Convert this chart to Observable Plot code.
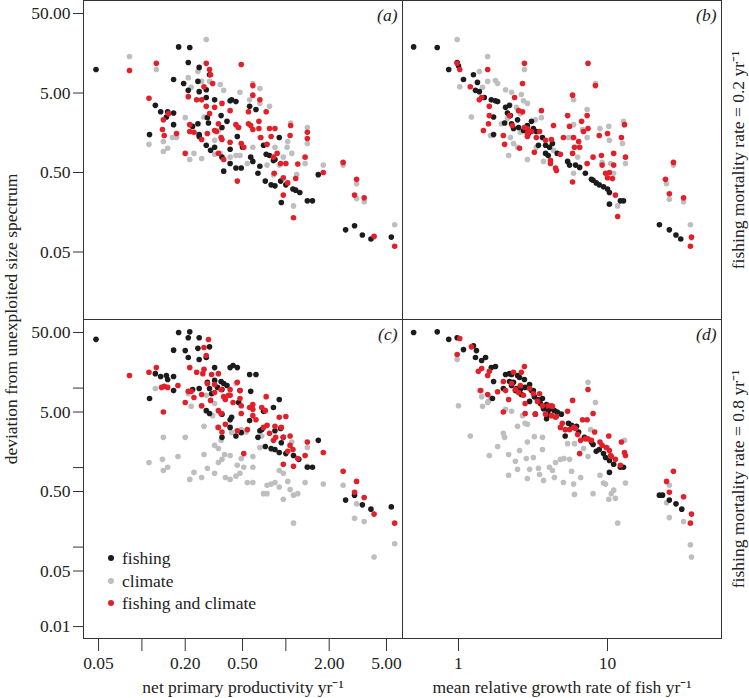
<!DOCTYPE html>
<html>
<head>
<meta charset="utf-8">
<script src="https://cdn.jsdelivr.net/npm/d3@7"></script>
<script src="https://cdn.jsdelivr.net/npm/@observablehq/plot@0.6"></script>
<style>
  html, body { margin: 0; padding: 0; background: white; }
  #chart { position: relative; width: 749px; height: 698px; background: white; font-family: "Liberation Serif", "Times New Roman", serif; color: #222; }
  .legend { position: absolute; left: 106px; top: 547px; font-size: 17.5px; line-height: 22.5px; }
  .legend .row { display: flex; align-items: center; white-space: nowrap; }
  .legend .sw { width: 6px; height: 6px; border-radius: 50%; margin-right: 8px; margin-left: 2px; }
</style>
</head>
<body>
<div id="chart"></div>
<script>
// ---------------- data ----------------
// series labels and colours
const seriesNames = ["fishing", "climate", "fishing and climate"];
const seriesColors = ["#1c1c1c", "#bebebe", "#e3202a"];

// tick values
const yTicksTop = [50, 5, 0.5, 0.05];
const yTicksBottom = [50, 10, 5, 1, 0.5, 0.1, 0.05, 0.01];
const yLabelledTop = [50, 5, 0.5, 0.05];
const yLabelledBottom = [50, 5, 0.5, 0.05, 0.01];
const nppTicks = [0.05, 0.1, 0.2, 0.5, 1, 2, 5];
const nppLabelled = [0.05, 0.2, 0.5, 2, 5];
const growthTicks = [1, 10];
const growthLabelled = [1, 10];

// panel (a): x = net primary productivity, F = 0.2
const aFishing = [[0.048,9.9],[0.18,19],[0.215,18.7],[0.21,12.1],[0.25,10.5],[0.166,7.4],[0.195,6.6],[0.21,5.4],[0.245,7.0],[0.295,8.5],[0.25,5.2],[0.28,5.5],[0.28,4.4],[0.32,4.1],[0.124,3.5],[0.135,2.9],[0.166,2.8],[0.148,2.5],[0.151,2.9],[0.166,2.0],[0.113,1.5],[0.225,1.9],[0.245,2.05],[0.285,2.45],[0.29,2.1],[0.25,1.5],[0.25,1.42],[0.28,1.1],[0.32,1.04],[0.30,0.95],[0.355,2.6],[0.36,1.84],[0.39,2.2],[0.41,4.0],[0.42,4.1],[0.45,3.9],[0.56,3.4],[0.62,3.1],[0.41,0.98],[0.36,0.78],[0.41,0.65],[0.45,0.57],[0.49,0.57],[0.37,0.52],[0.46,1.42],[0.50,1.04],[0.57,0.78],[0.59,0.69],[0.64,0.49],[0.66,0.6],[0.70,1.1],[0.73,0.85],[0.77,0.82],[0.82,0.71],[0.84,0.73],[0.90,1.38],[0.72,0.39],[0.79,0.35],[0.84,0.34],[0.92,0.39],[1.0,0.35],[1.12,0.31],[1.17,0.30],[1.25,0.28],[0.93,0.21],[1.41,0.22],[1.53,0.22],[1.68,0.47],[2.6,0.095],[3.0,0.107],[3.4,0.082],[3.9,0.073],[5.4,0.077]];
const aClimate = [[0.082,14.4],[0.126,9.9],[0.28,23.6],[0.21,7.8],[0.22,5.9],[0.245,9.3],[0.26,7.0],[0.295,7.0],[0.35,6.4],[0.37,5.4],[0.48,5.1],[0.56,4.1],[0.59,6.6],[0.66,5.7],[0.66,3.7],[0.77,3.4],[0.20,2.45],[0.27,2.5],[0.163,1.38],[0.112,1.13],[0.141,0.92],[0.151,1.01],[0.141,1.23],[0.215,0.73],[0.23,0.87],[0.26,0.75],[0.32,0.85],[0.35,0.87],[0.41,0.78],[0.45,0.82],[0.48,0.82],[0.54,0.65],[0.59,1.04],[0.66,1.38],[0.74,0.62],[0.82,0.47],[0.90,0.62],[1.02,1.04],[1.03,1.23],[1.08,2.1],[1.10,0.87],[1.13,0.19],[1.19,0.47],[1.36,0.65],[1.41,1.84],[1.41,1.16],[1.82,0.62],[2.5,0.62],[3.1,0.36],[3.1,0.235],[3.5,0.215],[4.1,0.077],[5.7,0.11],[0.84,1.04],[0.34,1.69],[0.32,1.27],[0.46,1.84],[0.96,0.78],[0.174,1.38]];
const aBoth = [[0.082,9.6],[0.126,11.8],[0.28,11.8],[0.49,11.4],[0.112,4.3],[0.295,9.9],[0.30,8.5],[0.21,4.5],[0.24,4.1],[0.26,4.1],[0.27,6.0],[0.28,3.4],[0.31,6.6],[0.295,2.75],[0.32,3.3],[0.36,3.7],[0.41,3.0],[0.141,2.3],[0.153,2.75],[0.139,1.74],[0.143,1.46],[0.174,1.55],[0.215,2.0],[0.215,1.64],[0.23,1.6],[0.26,1.3],[0.285,1.55],[0.32,1.69],[0.33,1.64],[0.34,2.05],[0.355,1.38],[0.36,1.3],[0.41,1.2],[0.45,2.0],[0.47,1.84],[0.49,1.16],[0.51,1.04],[0.55,2.05],[0.57,1.95],[0.59,1.74],[0.55,2.9],[0.59,4.7],[0.59,6.2],[0.66,4.1],[0.65,2.2],[0.65,1.79],[0.67,1.38],[0.73,2.9],[0.74,1.13],[0.77,1.79],[0.84,1.79],[0.79,1.42],[0.82,0.78],[0.87,0.87],[0.83,0.49],[0.92,0.65],[0.96,0.43],[0.96,0.26],[1.0,0.65],[1.03,0.37],[1.07,1.46],[1.08,1.95],[1.17,0.42],[1.21,0.64],[1.13,0.135],[0.46,0.39],[0.20,0.87],[0.37,0.73],[0.34,0.87],[1.36,0.78],[1.41,1.6],[1.41,1.34],[1.82,0.50],[2.5,0.67],[3.1,0.41],[3.0,0.26],[3.5,0.24],[4.1,0.079],[5.7,0.059]];

// panel (b): x = mean relative growth rate of fish, F = 0.2
const bFishing = [[0.50,19],[0.72,18.7],[0.86,9.9],[0.98,12.1],[1.0,11],[1.08,7.4],[1.26,8.5],[1.34,6.8],[1.30,5.4],[1.38,5.2],[1.49,4.4],[1.66,4.1],[1.77,4.0],[1.83,3.9],[1.72,2.5],[2.07,3.3],[2.13,2.8],[2.04,2.1],[2.23,2.6],[2.27,2.05],[2.34,1.79],[2.49,2.3],[2.53,1.84],[2.73,1.69],[2.9,1.95],[2.95,1.55],[3.18,1.79],[3.66,1.38],[3.84,1.1],[4.08,1.04],[4.27,1.16],[4.6,0.87],[3.84,0.87],[5.4,0.69],[5.56,0.62],[6.1,0.62],[6.5,0.58],[7.1,0.49],[7.8,0.41],[8.0,0.40],[8.4,0.37],[8.8,0.35],[9.4,0.33],[10.0,0.31],[10.3,0.28],[10.3,0.20],[12.2,0.22],[12.8,0.22],[22.3,0.11],[26,0.095],[28.8,0.082],[31,0.073],[2.2,3.5],[3.33,1.64],[3.44,1.1],[1.72,1.5],[3.09,2.2],[4.0,0.82]];
const bClimate = [[0.98,23.6],[1.57,14.4],[1.38,9.3],[1.02,6.0],[1.57,7.0],[1.77,7.2],[1.83,6.6],[1.45,5.9],[1.22,2.5],[1.64,1.46],[2.07,5.5],[2.27,5.1],[2.64,4.8],[2.73,4.0],[2.9,3.7],[2.45,3.3],[2.6,2.75],[2.13,2.4],[1.94,2.05],[3.6,2.45],[3.28,2.3],[2.6,1.6],[2.23,1.38],[2.49,1.04],[2.17,0.82],[2.9,0.73],[3.33,1.04],[3.72,0.69],[4.34,0.95],[5.92,4.1],[5.92,2.0],[6.5,1.04],[5.74,1.38],[6.8,1.74],[7.3,1.38],[7.3,3.1],[6.3,0.78],[5.92,0.49],[5.47,1.38],[8.9,1.79],[10.3,1.27],[10.2,1.9],[12.6,1.16],[12.8,2.2],[10.5,0.65],[11.0,0.49],[13.2,0.65],[8.3,6.6],[9.2,0.67],[11.7,0.19],[24.9,0.36],[26,0.23],[27.7,0.62],[32.4,0.215],[36,0.11],[36.6,0.075],[2.34,1.16],[2.77,9.9]];
const bBoth = [[0.98,11.8],[1.02,9.9],[1.57,9.9],[1.20,6.0],[1.38,4.1],[1.43,4.4],[1.47,1.69],[1.61,2.6],[1.61,3.4],[2.0,1.46],[2.04,1.13],[2.2,2.6],[2.3,1.95],[2.38,4.4],[2.69,6.6],[2.69,2.9],[2.77,11.8],[2.53,3.0],[2.77,1.84],[2.9,1.79],[2.9,1.55],[2.9,1.42],[3.09,1.64],[3.23,0.9],[3.33,1.38],[3.5,1.64],[3.6,3.0],[3.84,1.27],[4.14,0.71],[4.34,1.95],[4.2,1.3],[4.14,0.65],[4.48,0.57],[4.83,0.85],[5.06,1.38],[5.4,2.6],[5.56,1.9],[5.83,4.7],[5.83,0.87],[5.83,0.38],[5.92,1.38],[6.0,1.04],[6.4,1.23],[6.5,1.04],[6.9,1.64],[6.7,2.2],[7.3,2.6],[7.4,1.79],[7.4,11.8],[8.3,6.2],[8.0,0.78],[8.8,1.46],[9.1,0.82],[9.2,0.62],[9.7,0.49],[10.0,0.43],[10.3,0.50],[10.8,0.42],[11.0,0.87],[11.0,0.62],[11.3,0.26],[11.7,0.14],[12.4,1.38],[13.0,2.0],[13.2,0.78],[10.0,1.55],[7.3,0.65],[24.5,0.41],[26,0.27],[27.7,0.67],[32.4,0.24],[36.6,0.077],[36,0.059],[1.59,2.05],[2.57,1.01],[4.54,0.53]];

// panel (c): x = net primary productivity, F = 0.8
const cFishing = [[0.048,41],[0.18,50],[0.215,51],[0.21,43],[0.25,43],[0.295,33],[0.166,30],[0.20,29.6],[0.21,24.3],[0.245,31.6],[0.25,22.9],[0.28,24.3],[0.32,18.1],[0.41,18.1],[0.43,19.2],[0.46,18.1],[0.56,14.8],[0.62,14.8],[0.124,15.2],[0.135,14.0],[0.148,14.4],[0.151,12.8],[0.166,14.0],[0.166,9.3],[0.113,7.4],[0.225,9.6],[0.25,9.9],[0.285,11.8],[0.295,9.9],[0.32,12.5],[0.355,12.1],[0.37,11.4],[0.39,10.8],[0.305,8.5],[0.335,10.2],[0.28,5.2],[0.295,4.8],[0.36,4.7],[0.36,9.6],[0.41,4.0],[0.42,4.3],[0.36,2.4],[0.45,2.5],[0.49,2.75],[0.48,9.3],[0.47,6.6],[0.57,9.1],[0.56,3.9],[0.64,2.4],[0.66,2.9],[0.71,5.2],[0.72,1.84],[0.79,1.74],[0.82,5.7],[0.90,7.2],[0.84,2.9],[0.92,3.1],[0.93,2.05],[0.84,1.69],[0.90,1.55],[1.0,1.5],[1.13,1.42],[1.23,1.27],[1.41,1.01],[1.53,1.01],[1.68,2.2],[2.6,0.39],[3.0,0.45],[3.4,0.34],[3.9,0.30],[5.4,0.32],[0.96,2.4],[0.41,3.2],[0.70,5.1],[0.68,3.0]];
const cClimate = [[0.124,9.9],[0.141,2.4],[0.20,2.4],[0.22,5.9],[0.28,8.1],[0.31,4.5],[0.27,3.3],[0.112,1.16],[0.139,1.27],[0.141,0.92],[0.151,1.01],[0.178,1.38],[0.215,0.71],[0.23,0.87],[0.26,0.75],[0.285,0.98],[0.32,0.85],[0.34,1.16],[0.36,1.27],[0.375,1.46],[0.41,1.42],[0.355,2.2],[0.34,1.74],[0.38,0.75],[0.41,0.71],[0.45,0.78],[0.48,0.85],[0.46,1.07],[0.49,1.3],[0.51,1.01],[0.53,2.8],[0.54,0.65],[0.59,0.65],[0.59,1.01],[0.59,1.38],[0.66,1.79],[0.68,2.5],[0.70,0.47],[0.74,0.47],[0.74,0.6],[0.79,0.62],[0.84,0.65],[0.90,0.57],[0.90,0.92],[0.96,0.40],[0.96,0.85],[1.03,0.67],[1.07,0.53],[1.13,0.45],[1.13,0.20],[1.21,0.47],[1.10,2.1],[1.36,0.65],[1.41,1.79],[1.41,1.04],[1.82,0.62],[2.5,0.6],[3.0,0.23],[3.1,0.35],[3.5,0.21],[4.1,0.075],[5.7,0.11],[0.45,11.4],[0.49,3.0],[0.80,1.69],[0.26,6.0],[0.32,6.4],[0.42,2.75],[0.335,3.2],[0.21,8.5],[0.27,1.46],[0.32,1.9]];
const cBoth = [[0.082,14.4],[0.112,15.8],[0.126,18.1],[0.137,10.2],[0.143,10.5],[0.151,10.2],[0.178,10.8],[0.141,5.0],[0.20,6.6],[0.21,9.1],[0.22,9.1],[0.215,18.1],[0.23,7.6],[0.26,8.3],[0.265,15.2],[0.28,25.7],[0.27,32.4],[0.29,40.8],[0.285,11.4],[0.305,14.8],[0.32,11.1],[0.32,8.8],[0.34,15.2],[0.34,5.2],[0.355,9.6],[0.37,7.8],[0.355,4.8],[0.38,7.2],[0.40,8.1],[0.41,9.6],[0.41,8.1],[0.43,6.6],[0.46,11.8],[0.48,9.3],[0.48,7.4],[0.49,6.0],[0.51,1.5],[0.46,2.9],[0.49,4.8],[0.54,3.0],[0.56,5.7],[0.59,5.4],[0.59,4.5],[0.62,4.0],[0.59,6.2],[0.68,5.7],[0.72,5.2],[0.73,7.8],[0.74,3.4],[0.70,3.2],[0.77,2.7],[0.82,2.2],[0.84,3.3],[0.85,2.4],[0.90,4.3],[0.93,3.2],[0.96,2.4],[0.96,1.1],[1.0,4.4],[1.03,1.6],[1.07,1.9],[1.07,2.5],[1.12,1.69],[1.13,1.04],[1.21,1.3],[1.36,1.42],[1.41,2.1],[1.82,1.55],[2.5,0.9],[3.1,0.67],[3.0,0.49],[3.5,0.42],[4.1,0.26],[5.7,0.2],[0.24,15.8],[0.27,17.2],[0.26,6.0],[0.30,7.0],[0.34,3.2],[0.36,2.8],[0.38,3.5]];

// panel (d): x = mean relative growth rate of fish, F = 0.8
const dFishing = [[0.50,50],[0.72,51],[0.86,41],[0.98,43],[1.08,30.5],[1.26,34],[1.32,29.6],[1.30,24.3],[1.43,22.2],[1.52,24.3],[1.66,18.1],[1.77,18.7],[1.72,12.1],[2.07,14.8],[2.2,15.2],[2.27,14.8],[2.2,12.1],[2.34,11.8],[2.49,14.4],[2.57,13.6],[2.77,12.8],[2.0,9.9],[2.27,10.8],[2.45,9.9],[2.6,9.6],[2.8,10.2],[2.41,9.3],[2.64,8.3],[3.0,11.1],[3.09,9.3],[3.18,9.3],[3.23,7.8],[3.0,6.8],[3.39,7.2],[3.5,7.0],[3.66,7.4],[3.55,6.4],[3.72,5.5],[3.9,6.2],[4.0,5.2],[4.2,5.5],[4.4,5.2],[4.6,5.0],[3.97,4.7],[4.9,4.7],[3.9,4.1],[3.28,4.7],[1.69,7.4],[5.2,2.5],[5.47,3.6],[5.74,3.4],[6.2,3.3],[6.4,2.8],[7.0,2.4],[7.8,2.1],[8.0,1.95],[8.4,1.6],[8.8,1.69],[9.4,1.5],[9.7,1.34],[10.3,1.23],[11.0,1.1],[12.2,1.01],[12.8,1.01],[10.3,0.87],[22.3,0.45],[23.4,0.45],[26,0.39],[28.8,0.35],[31.5,0.30]];
const dClimate = [[0.98,22.9],[1.0,6.0],[1.20,2.5],[1.38,9.3],[1.45,5.9],[1.57,6.6],[1.64,7.6],[1.61,1.42],[1.83,1.84],[2.07,5.4],[2.17,1.46],[2.27,5.1],[2.17,0.8],[2.41,1.2],[2.57,1.64],[2.49,0.95],[2.49,3.3],[2.8,3.6],[2.9,2.1],[2.85,1.3],[3.0,0.95],[2.9,0.73],[3.18,1.34],[3.23,2.45],[3.44,0.98],[3.66,2.4],[3.66,1.69],[3.72,0.69],[4.08,1.01],[4.27,0.92],[4.4,0.75],[4.48,1.16],[4.83,1.27],[5.06,0.65],[5.1,1.3],[5.56,1.27],[5.74,0.9],[5.92,0.62],[6.0,0.46],[6.6,0.75],[6.9,1.74],[7.4,1.38],[8.0,0.47],[8.9,0.8],[9.4,0.64],[9.7,0.62],[10.2,0.40],[10.6,0.47],[11.0,0.52],[11.3,0.41],[11.7,0.2],[13.2,0.64],[13.0,2.2],[8.3,6.6],[7.4,11.8],[2.0,2.7],[2.04,2.4],[2.69,4.5],[2.9,3.5],[3.5,0.82],[5.4,2.0],[6.0,2.0],[7.7,3.0],[10.0,1.79],[24.9,0.36],[26,0.6],[26,0.235],[32.4,0.21],[36,0.107],[36.6,0.075],[1.43,7.8],[1.59,6.8]];
const dBoth = [[1.02,42],[0.98,26.5],[1.22,33],[1.36,16.3],[1.43,17.6],[1.57,14.4],[1.61,16.3],[1.41,9.3],[1.57,8.3],[1.83,9.0],[2.0,12.1],[2.0,5.0],[2.07,9.3],[2.17,7.2],[2.27,11.4],[2.34,15.8],[2.41,9.6],[2.53,8.8],[2.64,15.8],[2.77,18.7],[2.6,10.8],[2.73,8.1],[2.8,6.4],[2.8,4.8],[3.0,9.9],[3.18,8.5],[3.28,4.7],[3.39,6.8],[3.5,8.5],[3.66,6.0],[3.84,4.7],[4.2,6.0],[4.2,4.5],[4.48,4.3],[4.83,3.2],[4.97,3.6],[5.4,5.1],[5.2,3.0],[5.56,3.0],[5.83,7.0],[5.92,3.2],[6.1,3.1],[6.3,2.6],[6.6,2.2],[6.5,1.5],[6.8,4.0],[7.1,2.3],[7.3,4.0],[7.4,9.6],[7.4,2.3],[7.8,2.2],[8.0,4.8],[8.2,2.8],[8.9,2.1],[9.2,1.9],[9.8,1.79],[10.2,2.5],[10.3,1.64],[10.5,1.42],[11.3,1.27],[12.2,1.07],[12.4,2.1],[13.0,1.55],[13.2,1.42],[24.9,0.67],[26,0.49],[27.7,0.9],[32.4,0.43],[36.6,0.26],[36,0.2],[4.0,6.0],[4.27,5.9],[4.54,4.4],[10.6,1.38]];

// text
const panelTags = ["(a)", "(b)", "(c)", "(d)"];
const xTitles = ["net primary productivity yr\u207B\u00B9", "mean relative growth rate of fish yr\u207B\u00B9"];
const yTitle = "deviation from unexploited size spectrum";
const rowTitles = ["fishing mortality rate = 0.2 yr\u207B\u00B9", "fishing mortality rate = 0.8 yr\u207B\u00B9"];

// ---------------- drawing ----------------
const FONT = "'Liberation Serif', 'Times New Roman', serif";
const FS = 17.5;
const INK = "#222";
const LINE = "#333";
const nppDomain = [0.0393, 6.46];
const growthDomain = [0.421, 58.2];
const yDomain = [0.00708, 72.9];
const fmt2 = d3.format(".2f");
const toRows = pairs => pairs.map(([x, y]) => ({x, y}));

function panel({fishing, climate, both, xDomain, left, top, width, height, marginLeft, marginRight, marginBottom,
                yTicks, yLabels, xTicks, xLabels, xFormat, tag, xTitle, rowTitle}) {
  const marks = [];
  // drawing order: climate (grey), fishing (black), fishing and climate (red)
  marks.push(Plot.dot(toRows(climate), {x: "x", y: "y", r: 2.8, fill: seriesColors[1]}));
  marks.push(Plot.dot(toRows(fishing), {x: "x", y: "y", r: 2.8, fill: seriesColors[0]}));
  marks.push(Plot.dot(toRows(both), {x: "x", y: "y", r: 2.8, fill: seriesColors[2]}));
  marks.push(Plot.frame({stroke: LINE, strokeWidth: 1}));
  if (yTicks) {
    marks.push(Plot.axisY({ticks: yTicks, tickFormat: () => "", tickSize: 10, label: null, stroke: LINE}));
    marks.push(Plot.text(yLabels, {y: d => d, text: d => fmt2(d), frameAnchor: "left", dx: -13,
      textAnchor: "end", lineAnchor: "middle", fontSize: FS, fill: INK}));
  }
  if (xTicks) {
    marks.push(Plot.axisX({ticks: xTicks, tickFormat: () => "", tickSize: 13, label: null, stroke: LINE}));
    marks.push(Plot.text(xLabels, {x: d => d, text: xFormat, frameAnchor: "bottom", dy: 25,
      textAnchor: "middle", lineAnchor: "middle", fontSize: FS, fill: INK}));
  }
  marks.push(Plot.text([tag], {text: d => d, frameAnchor: "top-right", dx: -5, dy: 15, textAnchor: "end",
    lineAnchor: "middle", fontStyle: "italic", fontSize: FS, fill: INK}));
  if (xTitle) marks.push(Plot.text([xTitle], {text: d => d, frameAnchor: "bottom", dy: 49, textAnchor: "middle",
    lineAnchor: "middle", fontSize: FS, fill: INK}));
  if (rowTitle) marks.push(Plot.text([rowTitle], {text: d => d, frameAnchor: "right", dx: 17, rotate: -90,
    textAnchor: "middle", lineAnchor: "middle", fontSize: FS, fill: INK}));
  const svg = Plot.plot({
    width, height, marginLeft, marginRight, marginTop: 0, marginBottom,
    x: {type: "log", domain: xDomain, axis: xTicks ? undefined : null},
    y: {type: "log", domain: yDomain, axis: yTicks ? undefined : null},
    style: {fontFamily: FONT, fontSize: FS + "px", color: INK, background: "transparent", overflow: "visible"},
    marks
  });
  svg.style.position = "absolute";
  svg.style.left = left + "px";
  svg.style.top = top + "px";
  return svg;
}

const chart = document.getElementById("chart");
chart.append(panel({fishing: aFishing, climate: aClimate, both: aBoth, xDomain: nppDomain,
  left: 0, top: 0, width: 402, height: 319, marginLeft: 83, marginRight: 0, marginBottom: 0,
  yTicks: yTicksTop, yLabels: yLabelledTop, tag: panelTags[0]}));
chart.append(panel({fishing: bFishing, climate: bClimate, both: bBoth, xDomain: growthDomain,
  left: 402, top: 0, width: 347, height: 319, marginLeft: 0, marginRight: 28, marginBottom: 0,
  tag: panelTags[1], rowTitle: rowTitles[0]}));
chart.append(panel({fishing: cFishing, climate: cClimate, both: cBoth, xDomain: nppDomain,
  left: 0, top: 319, width: 402, height: 379, marginLeft: 83, marginRight: 0, marginBottom: 60,
  yTicks: yTicksBottom, yLabels: yLabelledBottom, xTicks: nppTicks, xLabels: nppLabelled, xFormat: d => fmt2(d),
  tag: panelTags[2], xTitle: xTitles[0]}));
chart.append(panel({fishing: dFishing, climate: dClimate, both: dBoth, xDomain: growthDomain,
  left: 402, top: 319, width: 347, height: 379, marginLeft: 0, marginRight: 28, marginBottom: 60,
  xTicks: growthTicks, xLabels: growthLabelled, xFormat: d => String(d),
  tag: panelTags[3], xTitle: xTitles[1], rowTitle: rowTitles[1]}));

// shared y-axis title
const ns = "http://www.w3.org/2000/svg";
const ov = document.createElementNS(ns, "svg");
ov.setAttribute("width", 30); ov.setAttribute("height", 698);
ov.style.cssText = "position:absolute;left:0;top:0;overflow:visible;pointer-events:none";
const t = document.createElementNS(ns, "text");
t.setAttribute("transform", "translate(11,319) rotate(-90)");
t.setAttribute("text-anchor", "middle");
t.setAttribute("dominant-baseline", "central");
t.setAttribute("font-family", FONT);
t.setAttribute("font-size", FS);
t.setAttribute("fill", INK);
t.textContent = yTitle;
ov.append(t);
chart.append(ov);

// legend (inside panel c)
const lg = document.createElement("div");
lg.className = "legend";
seriesNames.forEach((name, i) => {
  const row = document.createElement("div");
  row.className = "row";
  const sw = document.createElement("span");
  sw.className = "sw";
  sw.style.background = seriesColors[i];
  const tx = document.createElement("span");
  tx.textContent = name;
  row.append(sw, tx);
  lg.append(row);
});
chart.append(lg);
</script>
</body>
</html>
